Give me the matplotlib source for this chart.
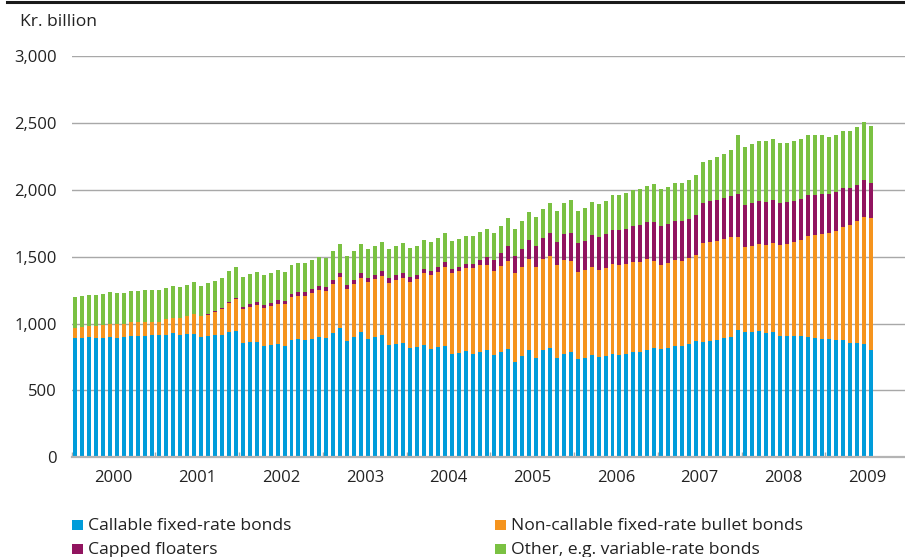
import matplotlib.pyplot as plt
import numpy as np
from matplotlib.lines import Line2D
from matplotlib.patches import Rectangle

plt.rcParams["font.family"] = ["Open Sans", "DejaVu Sans"]

W, H = 905, 557
TEXT = "#222222"

# monthly, Jan 2000 - Jul 2009, kr. billion
YEARS = ["2000", "2001", "2002", "2003", "2004", "2005", "2006", "2007", "2008", "2009"]

CALLABLE = [
    890, 890, 898, 890, 890, 898, 890, 898, 905, 905, 905, 913, 913, 913, 928, 913, 920, 920, 898,
    908, 913, 913, 938, 943, 853, 861, 861, 831, 838, 846, 831, 876, 883, 876, 883, 898, 890, 928, 965,
    868, 898, 935, 883, 898, 913, 838, 846, 853, 816, 823, 838, 808, 823, 831, 771, 779, 793, 771,
    786, 801, 764, 786, 808, 711, 756, 801, 741, 801, 816, 741, 771, 786, 734, 741, 764, 749, 756,
    771, 764, 771, 786, 786, 801, 816, 808, 816, 831, 831, 846, 868, 861, 868, 876, 891, 898, 950,
    935, 935, 943, 928, 935, 905, 905, 905, 905, 898, 891, 883, 883, 876, 876, 853, 853, 846, 801,
]
BULLET = [
    78, 83, 85, 93, 100, 100, 110, 100, 105, 105, 107, 102, 102, 119, 117, 129, 137, 152, 159,
    157, 174, 196, 216, 241, 256, 263, 278, 286, 294, 301, 316, 323, 324, 331, 346, 353, 354, 368, 383,
    388, 396, 403, 426, 433, 440, 463, 477, 485, 493, 508, 538, 553, 560, 589, 605, 612, 620, 642,
    649, 634, 627, 642, 657, 665, 664, 679, 679, 679, 687, 694, 702, 679, 649, 657, 656, 649, 657,
    672, 671, 672, 672, 672, 679, 649, 627, 634, 642, 634, 642, 642, 739, 739, 739, 738, 746, 694,
    635, 642, 649, 657, 665, 680, 687, 702, 717, 754, 768, 784, 791, 813, 843, 881, 911, 948, 985,
]
CAPPED = [
    0, 0, 0, 0, 0, 0, 0, 0, 0, 0, 0, 0, 0, 0, 0, 0, 0, 0, 0,
    7, 8, 8, 8, 8, 15, 23, 23, 22, 22, 30, 22, 22, 29, 29, 30, 30, 30, 30, 30,
    30, 29, 38, 29, 30, 38, 37, 38, 38, 37, 30, 30, 30, 37, 38, 30, 29, 30, 30,
    38, 60, 82, 97, 112, 126, 135, 142, 157, 157, 171, 172, 194, 209, 217, 217, 239, 246, 254,
    254, 262, 261, 268, 276, 276, 291, 291, 291, 291, 299, 291, 299, 298, 306, 306, 306, 306, 321,
    313, 321, 321, 321, 321, 313, 314, 306, 306, 306, 299, 298, 291, 291, 291, 276, 269, 276, 261,
]
OTHER = [
    229, 231, 228, 228, 229, 236, 226, 228, 231, 231, 237, 234, 234, 232, 234, 229, 229, 236, 222,
    232, 223, 224, 231, 231, 224, 224, 224, 224, 224, 224, 217, 217, 217, 217, 216, 217, 216, 216, 217,
    217, 217, 216, 217, 216, 216, 217, 216, 224, 216, 216, 216, 216, 217, 216, 209, 209, 209, 209,
    209, 209, 201, 201, 209, 202, 209, 209, 217, 216, 224, 231, 231, 247, 238, 246, 247, 247, 246,
    261, 261, 269, 269, 269, 269, 284, 277, 277, 283, 283, 291, 298, 306, 306, 321, 329, 344, 448,
    433, 441, 448, 455, 455, 448, 440, 448, 448, 448, 448, 448, 433, 433, 433, 433, 433, 433, 433,
]

SERIES = [CALLABLE, BULLET, CAPPED, OTHER]
LABELS = [
    "Callable fixed-rate bonds",
    "Non-callable fixed-rate bullet bonds",
    "Capped floaters",
    "Other, e.g. variable-rate bonds",
]
COLORS = ["#009cda", "#f5941e", "#91145f", "#7ac142"]
Y_TICKS = [0, 500, 1000, 1500, 2000, 2500, 3000]

fig = plt.figure(figsize=(W / 100, H / 100), dpi=100)
ax_left, ax_right, ax_top, ax_bottom = 71.7, 905.0, 56.0, 457.3
ax = fig.add_axes([ax_left / W, 1 - ax_bottom / H, (ax_right - ax_left) / W, (ax_bottom - ax_top) / H])

x = np.arange(len(CALLABLE))
bottom = np.zeros(len(x))
for values, color, label in zip(SERIES, COLORS, LABELS):
    vals = np.array(values, dtype=float)
    ax.bar(x, vals, bottom=bottom, width=0.57, color=color, linewidth=0, label=label, zorder=2)
    bottom += vals

# category axis runs to Dec 2009, only partly visible
ax.set_xlim(-0.5, -0.5 + (ax_right - ax_left) / 6.978)
ax.set_ylim(0, 3000)

ax.set_yticks(Y_TICKS)
ax.set_yticklabels([f"{v:,}" for v in Y_TICKS])
ax.tick_params(axis="y", length=0, pad=10.8, labelsize=12, labelcolor=TEXT)
ax.yaxis.grid(True, color="#a8a8a8", linewidth=1.0, zorder=0)
ax.set_axisbelow(True)

ax.set_xticks([12 * k - 0.5 for k in range(len(YEARS))])
ax.set_xticklabels([])
ax.set_xticks([12 * k + 5.5 for k in range(len(YEARS))], minor=True)
ax.set_xticklabels(YEARS, minor=True)
ax.tick_params(axis="x", which="major", direction="in", length=3.8, width=1.0, color="#a8a8a8")
ax.tick_params(axis="x", which="minor", length=0, pad=9.0, labelsize=12, labelcolor=TEXT)

for side in ("top", "right", "left"):
    ax.spines[side].set_visible(False)
ax.spines["bottom"].set_color("#b4b4b4")
ax.spines["bottom"].set_linewidth(1.6)
ax.spines["bottom"].set_zorder(3)

# top rule and unit label
fig.add_artist(Line2D([7 / W, 1], [1 - 1.5 / H, 1 - 1.5 / H], color="#1a1a1a", linewidth=2.2))
fig.text(19.5 / W, 1 - 26.5 / H, "Kr. billion", fontsize=12.6, color=TEXT, va="baseline", ha="left")

# legend
legend_pos = [(72, 530), (495, 530), (72, 554), (495, 554)]
for (lx, ly), color, label in zip(legend_pos, COLORS, LABELS):
    fig.add_artist(Rectangle((lx / W, 1 - ly / H), 10.5 / W, 10.5 / H,
                             transform=fig.transFigure, facecolor=color, edgecolor="none"))
    fig.text((lx + 15.5) / W, 1 - ly / H, label, fontsize=12.6, color=TEXT, va="baseline", ha="left")

fig.savefig("out.png", dpi=100)
